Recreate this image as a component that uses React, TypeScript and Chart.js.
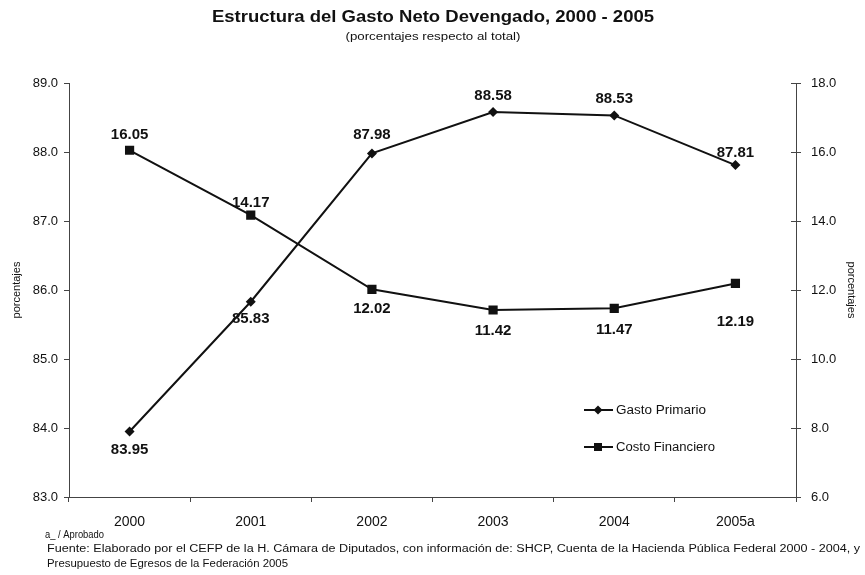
import React, { useEffect, useRef } from "react";
import { Chart, registerables } from "chart.js";

Chart.register(...registerables);

const categories = ["2000", "2001", "2002", "2003", "2004", "2005a"];
const gastoPrimario = [83.95, 85.83, 87.98, 88.58, 88.53, 87.81];
const costoFinanciero = [16.05, 14.17, 12.02, 11.42, 11.47, 12.19];
const seriesNames = ["Gasto Primario", "Costo Financiero"];
const leftAxis = { min: 83, max: 89, step: 1 };
const rightAxis = { min: 6, max: 18, step: 2 };
const titleText = "Estructura del Gasto Neto Devengado, 2000 - 2005";
const subtitleText = "(porcentajes respecto al total)";
const axisTitle = "porcentajes";
const noteText = "a_ / Aprobado";
const sourceLines = [
  "Fuente: Elaborado por el CEFP de la H. Cámara de Diputados, con información de: SHCP, Cuenta de la Hacienda Pública Federal 2000 - 2004, y",
  "Presupuesto de Egresos de la Federación 2005",
];

// label vertical offsets (style only)
const gastoLabelOffsets = [18, 17, -19, -16, -17, -12];
const costoLabelOffsets = [-15, -12, 20, 21, 22, 38];

const FONT = "'Liberation Sans', 'DejaVu Sans', sans-serif";

function stretchText(ctx: any, text: string, x: number, y: number, width: number, align: string) {
  const w = ctx.measureText(text).width;
  const s = width / w;
  ctx.save();
  let left = x;
  if (align === "center") left = x - width / 2;
  ctx.translate(left, y);
  ctx.scale(s, 1);
  ctx.textAlign = "left";
  ctx.fillText(text, 0, 0);
  ctx.restore();
}

const decorPlugin = {
  id: "decor",
  afterDraw(chart: any) {
    const ctx = chart.ctx;
    ctx.save();
    ctx.fillStyle = "#111";
    ctx.textBaseline = "middle";

    // inner ticks on the right axis
    const y1 = chart.scales.y1;
    ctx.strokeStyle = "#444";
    ctx.lineWidth = 1;
    y1.ticks.forEach((t: any) => {
      const py = Math.round(y1.getPixelForValue(t.value)) + 0.5;
      ctx.beginPath();
      ctx.moveTo(y1.left - 5, py);
      ctx.lineTo(y1.left, py);
      ctx.stroke();
    });

    // data labels
    ctx.textAlign = "center";
    ctx.font = `bold 15px ${FONT}`;
    const offsets = [gastoLabelOffsets, costoLabelOffsets];
    chart.data.datasets.forEach((ds: any, di: number) => {
      const meta = chart.getDatasetMeta(di);
      meta.data.forEach((pt: any, i: number) => {
        ctx.fillText(ds.data[i].toFixed(2), pt.x, pt.y + offsets[di][i]);
      });
    });

    // title
    ctx.font = `bold 16px ${FONT}`;
    stretchText(ctx, titleText, 433, 18, 442, "center");
    ctx.font = `10px ${FONT}`;
    stretchText(ctx, subtitleText, 433, 37, 175, "center");

    // legend
    const legendY = [410, 447];
    legendY.forEach((ly, i) => {
      ctx.strokeStyle = "#111";
      ctx.lineWidth = 2;
      ctx.beginPath();
      ctx.moveTo(584, ly);
      ctx.lineTo(613, ly);
      ctx.stroke();
      ctx.fillStyle = "#111";
      ctx.beginPath();
      if (i === 0) {
        ctx.moveTo(598, ly - 4.5);
        ctx.lineTo(602.5, ly);
        ctx.lineTo(598, ly + 4.5);
        ctx.lineTo(593.5, ly);
        ctx.closePath();
      } else {
        ctx.rect(594, ly - 4, 8, 8);
      }
      ctx.fill();
      ctx.font = `12px ${FONT}`;
      stretchText(ctx, seriesNames[i], 616, ly + 1, i === 0 ? 90 : 99, "left");
    });

    // footer
    ctx.font = `10px ${FONT}`;
    stretchText(ctx, noteText, 45, 535, 59, "left");
    stretchText(ctx, sourceLines[0], 47, 549, 813, "left");
    stretchText(ctx, sourceLines[1], 47, 564, 241, "left");
    ctx.restore();
  },
};

export default function App() {
  const ref = useRef<HTMLCanvasElement | null>(null);
  useEffect(() => {
    if (!ref.current) return;
    const chart = new Chart(ref.current, {
      type: "line",
      data: {
        labels: categories,
        datasets: [
          {
            label: seriesNames[0],
            data: gastoPrimario,
            yAxisID: "y",
            borderColor: "#111",
            backgroundColor: "#111",
            borderWidth: 2,
            pointStyle: "rectRot",
            pointRadius: 5,
            pointBorderWidth: 0,
            tension: 0,
          },
          {
            label: seriesNames[1],
            data: costoFinanciero,
            yAxisID: "y1",
            borderColor: "#111",
            backgroundColor: "#111",
            borderWidth: 2,
            pointStyle: "rect",
            pointRadius: 6.5,
            pointBorderWidth: 0,
            tension: 0,
          },
        ],
      },
      options: {
        responsive: false,
        animation: false,
        devicePixelRatio: 1,
        layout: { padding: { top: 83, left: 0, right: 0, bottom: 0 } },
        plugins: {
          legend: { display: false },
          tooltip: { enabled: false },
          title: { display: false },
        },
        scales: {
          x: {
            offset: true,
            afterFit(scale: any) {
              scale.height = 78;
            },
            grid: {
              offset: true,
              drawOnChartArea: false,
              drawTicks: true,
              tickLength: 5,
              color: "#444",
            },
            border: { color: "#444", width: 1 },
            ticks: {
              color: "#111",
              font: { size: 14, family: FONT },
              padding: 12,
              maxRotation: 0,
            },
          },
          y: {
            position: "left",
            min: leftAxis.min,
            max: leftAxis.max,
            afterFit(scale: any) {
              scale.width = 69;
            },
            grid: { drawOnChartArea: false, tickLength: 5, color: "#444" },
            border: { color: "#444", width: 1 },
            ticks: {
              stepSize: leftAxis.step,
              color: "#111",
              padding: 6,
              font: { size: 13, family: FONT },
              callback: (v: any) => Number(v).toFixed(1),
            },
            title: {
              display: true,
              text: axisTitle,
              color: "#111",
              font: { size: 11, family: FONT },
              padding: { top: 10, bottom: 0 },
            },
          },
          y1: {
            position: "right",
            min: rightAxis.min,
            max: rightAxis.max,
            afterFit(scale: any) {
              scale.width = 69;
            },
            grid: { drawOnChartArea: false, tickLength: 5, color: "#444" },
            border: { color: "#444", width: 1 },
            ticks: {
              stepSize: rightAxis.step,
              color: "#111",
              padding: 10,
              font: { size: 13, family: FONT },
              callback: (v: any) => Number(v).toFixed(1),
            },
            title: {
              display: true,
              text: axisTitle,
              color: "#111",
              font: { size: 11, family: FONT },
              padding: { top: 7, bottom: 0 },
            },
          },
        },
      },
      plugins: [decorPlugin],
    } as any);
    return () => chart.destroy();
  }, []);
  return (
    <div style={{ position: "absolute", left: 0, top: 0, width: 865, height: 575, background: "#fff" }}>
      <canvas ref={ref} width={865} height={575} style={{ width: 865, height: 575 }} />
    </div>
  );
}
